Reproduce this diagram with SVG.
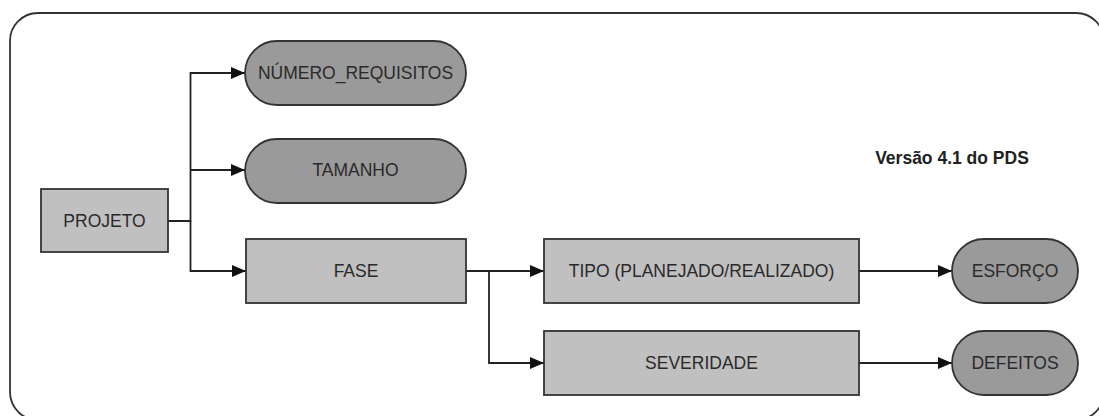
<svg xmlns="http://www.w3.org/2000/svg" width="1099" height="416" viewBox="0 0 1099 416">
<style>
.box{fill:#c0c0c0;stroke:#333;stroke-width:1.8}
.pill{fill:#9a9a9a;stroke:#333;stroke-width:1.8}
.lbl{font-family:"Liberation Sans",Arial,sans-serif;font-size:17.5px;fill:#2a2a2a;text-anchor:middle}
.con{fill:none;stroke:#222;stroke-width:1.8}
</style>
<defs>
<marker id="arr" markerUnits="userSpaceOnUse" markerWidth="15" markerHeight="13" refX="14" refY="6.5" orient="auto">
<path d="M0,0.5 L14,6.5 L0,12.5 Z" fill="#111"/>
</marker>
</defs>
<rect x="0" y="0" width="1099" height="416" fill="#fff"/>
<rect id="frame" x="10" y="13" width="1094" height="407" rx="28" ry="28" fill="none" stroke="#333" stroke-width="1.8"/>
<g id="connectors">
<path class="con" d="M168,221 H190.5 V73 H245" marker-end="url(#arr)"/>
<path class="con" d="M190.5,170 H245" marker-end="url(#arr)"/>
<path class="con" d="M190.5,221 V271 H246" marker-end="url(#arr)"/>
<path class="con" d="M466,271 H544" marker-end="url(#arr)"/>
<path class="con" d="M489,271 V363 H544" marker-end="url(#arr)"/>
<path class="con" d="M859,271 H952" marker-end="url(#arr)"/>
<path class="con" d="M859,363 H952" marker-end="url(#arr)"/>
</g>
<g id="projeto"><rect class="box" x="41" y="189" width="127" height="63"/><text class="lbl" x="104.5" y="227.3">PROJETO</text></g>
<g id="numero_requisitos"><rect class="pill" x="245" y="41" width="221" height="64" rx="32" ry="32"/><text class="lbl" x="355.5" y="79.3">NÚMERO_REQUISITOS</text></g>
<g id="tamanho"><rect class="pill" x="245" y="139" width="221" height="64" rx="32" ry="32"/><text class="lbl" x="355.5" y="176.3">TAMANHO</text></g>
<g id="fase"><rect class="box" x="246" y="239" width="220" height="64"/><text class="lbl" x="356" y="277.3">FASE</text></g>
<g id="tipo"><rect class="box" x="544" y="239" width="315" height="64"/><text class="lbl" x="701.5" y="277.3">TIPO (PLANEJADO/REALIZADO)</text></g>
<g id="severidade"><rect class="box" x="544" y="331" width="315" height="64"/><text class="lbl" x="701.5" y="369.3">SEVERIDADE</text></g>
<g id="esforco"><rect class="pill" x="952" y="239" width="126" height="64" rx="32" ry="32"/><text class="lbl" x="1015" y="277.3">ESFORÇO</text></g>
<g id="defeitos"><rect class="pill" x="952" y="331" width="126" height="64" rx="32" ry="32"/><text class="lbl" x="1015" y="369.3">DEFEITOS</text></g>
<g id="versao"><text x="952" y="164" style="font-family:'Liberation Sans',Arial,sans-serif;font-size:17.5px;font-weight:bold;fill:#222;text-anchor:middle">Versão 4.1 do PDS</text></g>
</svg>
